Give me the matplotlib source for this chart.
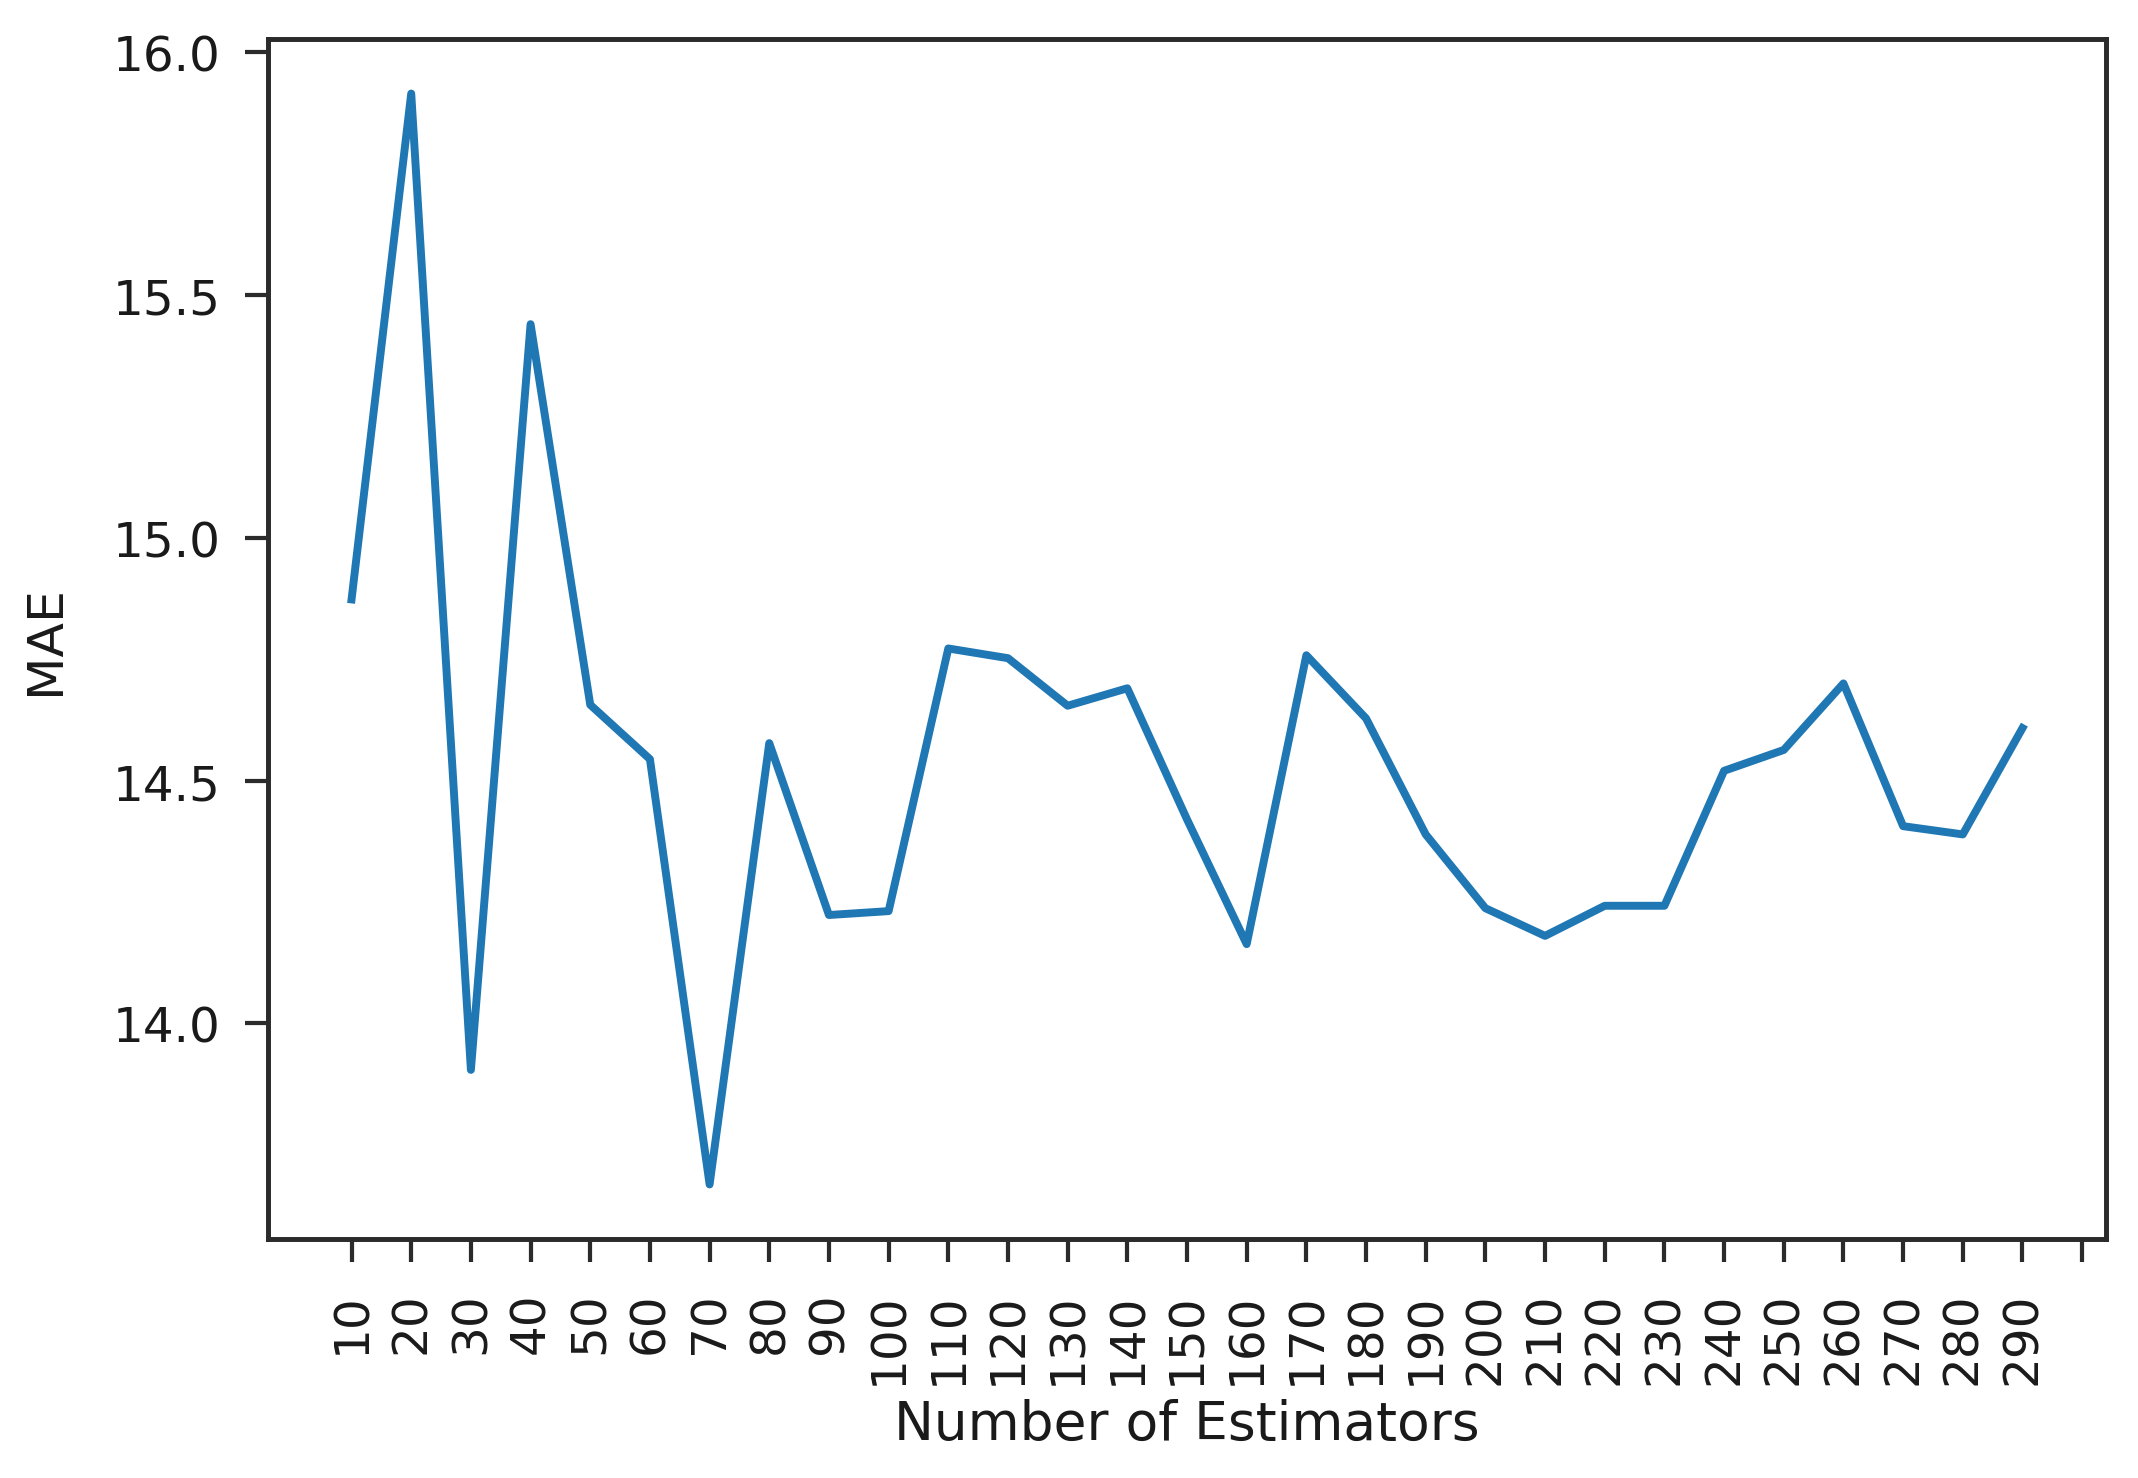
import matplotlib
matplotlib.use("Agg")
import matplotlib.pyplot as plt

n_estimators = list(range(10, 300, 10))
mae = [14.873, 15.915, 13.904, 15.44, 14.656, 14.544, 13.668, 14.577, 14.223, 14.231,
       14.772, 14.752, 14.654, 14.69, 14.42, 14.163, 14.758, 14.628, 14.389, 14.237,
       14.18, 14.242, 14.242, 14.52, 14.563, 14.70, 14.406, 14.389, 14.608]
tick_positions = list(range(10, 310, 10))
tick_labels = [str(v) for v in range(10, 300, 10)] + [""]
ytick_values = [14.0, 14.5, 15.0, 15.5, 16.0]

DPI = 356.33
fig = plt.figure(figsize=(2138 / DPI, 1479 / DPI), dpi=DPI)
ax = fig.add_axes([268 / 2138, 1 - 1240 / 1479, (2106 - 268) / 2138, (1240 - 40) / 1479])

ax.plot(n_estimators, mae, color="#1f77b4", linewidth=1.6)

ax.set_xticks(tick_positions)
ax.set_xticklabels(tick_labels, rotation=90)
ax.set_yticks(ytick_values)

spine_color = "#2b2b2b"
for s in ax.spines.values():
    s.set_linewidth(1.0)
    s.set_color(spine_color)
ax.tick_params(axis="both", length=4.6, width=0.85, color=spine_color,
               labelsize=9.8, labelcolor="#1a1a1a")
ax.tick_params(axis="y", pad=5.0)
ax.tick_params(axis="x", pad=6.0)

ax.set_xlabel("Number of Estimators", fontsize=10.8, color="#1a1a1a")
ax.set_ylabel("MAE", fontsize=10.2, color="#1a1a1a")
ax.xaxis.label.set_va("center")
ax.yaxis.label.set_va("center")
ax.xaxis.set_label_coords(0.5, -0.154)
ax.yaxis.set_label_coords(-0.1213, 0.5)

fig.savefig("out.png", dpi=DPI, facecolor="white")
